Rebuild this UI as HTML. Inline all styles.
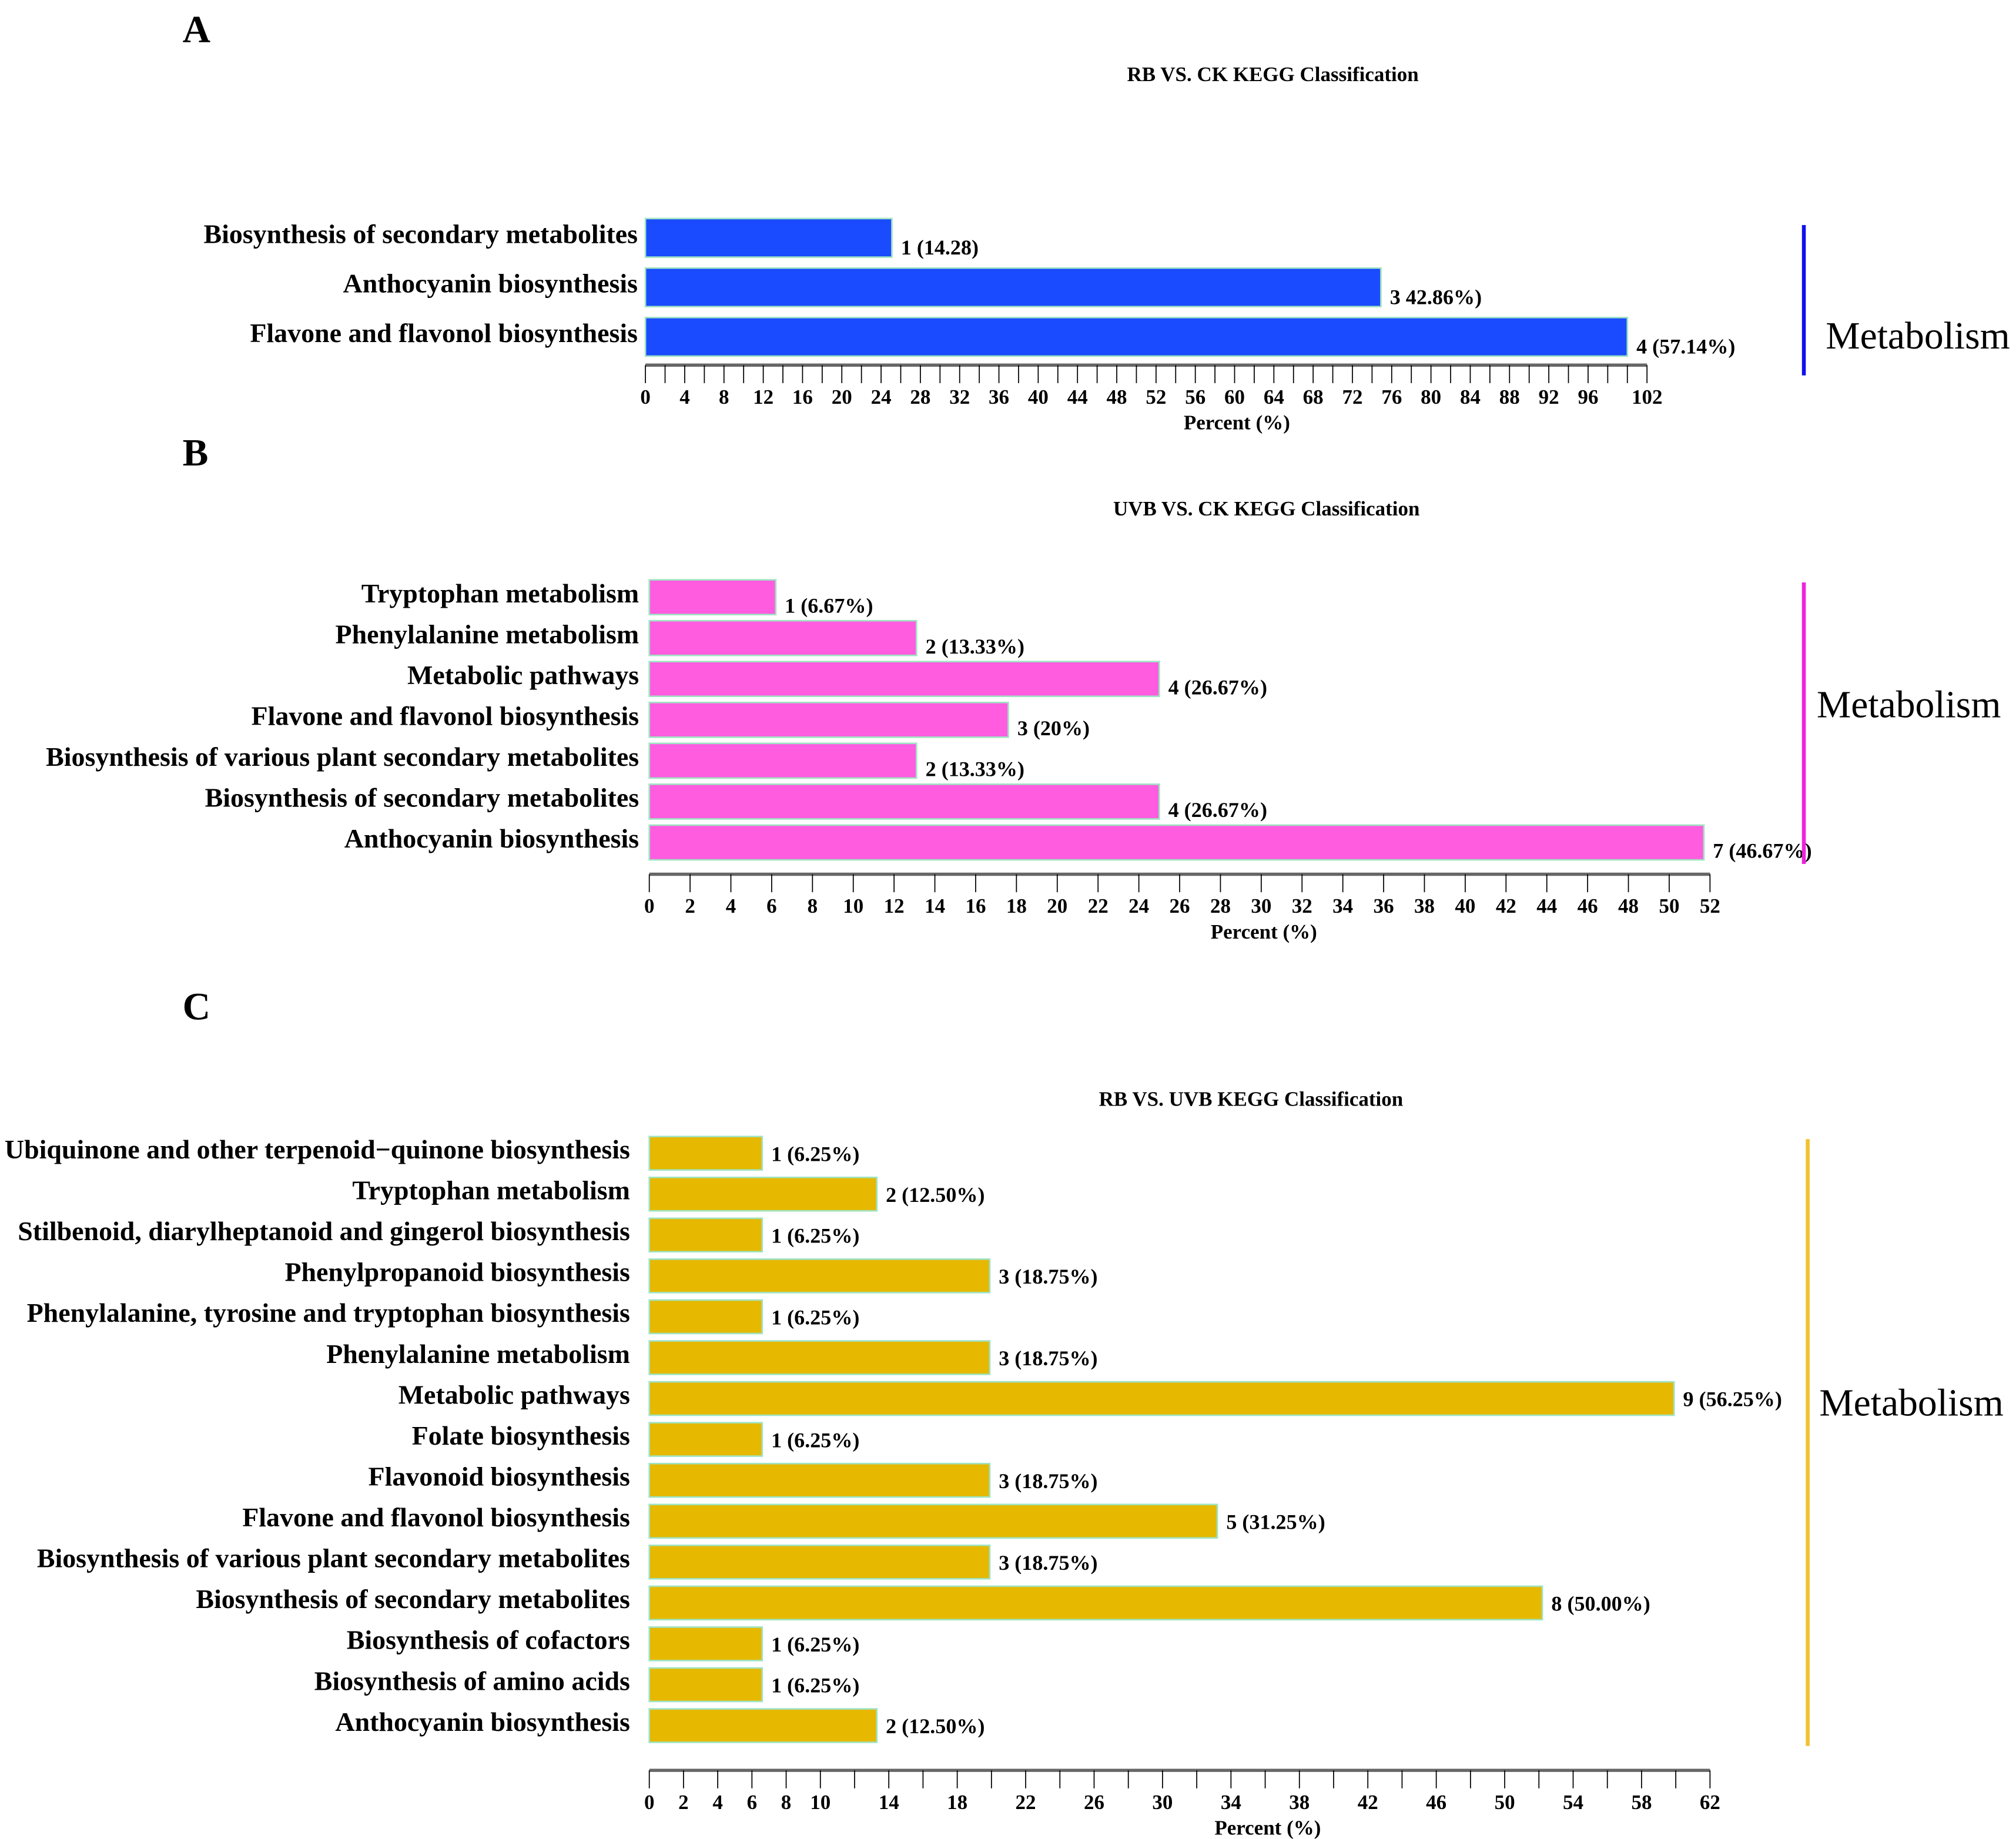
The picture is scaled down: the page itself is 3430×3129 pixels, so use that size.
<!DOCTYPE html>
<html><head><meta charset="utf-8"><style>
html,body{margin:0;padding:0;background:#fff}
svg{display:block}
text{font-family:"Liberation Serif",serif;fill:#000}
.b{font-weight:bold}
.n{font-weight:normal}
</style></head>
<body>
<svg id="fig" width="3430" height="3129" viewBox="0 0 1568 1430.4" preserveAspectRatio="none" xmlns="http://www.w3.org/2000/svg"></svg>
<script>
// Panel A data
const catsA = ["Biosynthesis of secondary metabolites","Anthocyanin biosynthesis","Flavone and flavonol biosynthesis"];
const valsA = [25.1, 74.9, 100];
const lblsA = ["1 (14.28)","3 42.86%)","4 (57.14%)"];
const ticksA = [0,4,8,12,16,20,24,28,32,36,40,44,48,52,56,60,64,68,72,76,80,84,88,92,96,102];
// Panel B data
const catsB = ["Tryptophan metabolism","Phenylalanine metabolism","Metabolic pathways","Flavone and flavonol biosynthesis","Biosynthesis of various plant secondary metabolites","Biosynthesis of secondary metabolites","Anthocyanin biosynthesis"];
const valsB = [6.2, 13.1, 25.0, 17.6, 13.1, 25.0, 51.7];
const lblsB = ["1 (6.67%)","2 (13.33%)","4 (26.67%)","3 (20%)","2 (13.33%)","4 (26.67%)","7 (46.67%)"];
const ticksB = [0,2,4,6,8,10,12,14,16,18,20,22,24,26,28,30,32,34,36,38,40,42,44,46,48,50,52];
// Panel C data
const catsC = ["Ubiquinone and other terpenoid\u2212quinone biosynthesis","Tryptophan metabolism","Stilbenoid, diarylheptanoid and gingerol biosynthesis","Phenylpropanoid biosynthesis","Phenylalanine, tyrosine and tryptophan biosynthesis","Phenylalanine metabolism","Metabolic pathways","Folate biosynthesis","Flavonoid biosynthesis","Flavone and flavonol biosynthesis","Biosynthesis of various plant secondary metabolites","Biosynthesis of secondary metabolites","Biosynthesis of cofactors","Biosynthesis of amino acids","Anthocyanin biosynthesis"];
const valsC = [6.6, 13.3, 6.6, 19.9, 6.6, 19.9, 59.9, 6.6, 19.9, 33.2, 19.9, 52.2, 6.6, 6.6, 13.3];
const lblsC = ["1 (6.25%)","2 (12.50%)","1 (6.25%)","3 (18.75%)","1 (6.25%)","3 (18.75%)","9 (56.25%)","1 (6.25%)","3 (18.75%)","5 (31.25%)","3 (18.75%)","8 (50.00%)","1 (6.25%)","1 (6.25%)","2 (12.50%)"];
const ticksC = [0,2,4,6,8,10,14,18,22,26,30,34,38,42,46,50,54,58,62];

const NS="http://www.w3.org/2000/svg";
const svg=document.getElementById('fig');
function el(tag,attrs,parent){const e=document.createElementNS(NS,tag);for(const k in attrs)e.setAttribute(k,attrs[k]);(parent||svg).appendChild(e);return e;}
function txt(s,attrs,parent){const t=el('text',attrs,parent);t.textContent=s;return t;}

function panel(p){
  const g=el('g',{});
  
  
  const x=v=>p.x0+(v-0)*(p.x1-p.x0)/p.max;
  const letter=txt(p.letter,{x:p.lx,y:p.ly,'font-size':30,class:'b'},g);
  
  
  const title=txt(p.title,{x:p.tx,y:p.ty,'font-size':16,'text-anchor':'middle',class:'b'},g);
  
  
  for(let i=0;i<p.cats.length;i++){
    const y=p.y0+i*p.pitch;
    const b=el('rect',{x:x(0),y:y,width:x(p.vals[i])-x(0),height:p.bh,fill:p.color,stroke:'#9fe3c2','stroke-width':1.2},g);
    
    
    const c=txt(p.cats[i],{x:p.lr,y:y+p.bh/2+4,'font-size':21,'text-anchor':'end',class:'b'},g);
    
    
    const v=txt(p.lbls[i],{x:x(p.vals[i])+7,y:y+p.bh/2+p.vo,'font-size':16.5,class:'b'},g);
    
    
  }
  const ax=el('line',{x1:x(0),x2:x(p.max),y1:p.ay,y2:p.ay,stroke:'#666','stroke-width':2.5},g);
  
  
  for(let v=0;v<=p.max+0.001;v+=p.minor){
    el('line',{x1:x(v),x2:x(v),y1:p.ay,y2:p.ay+14,stroke:'#000','stroke-width':0.8},g);
  }
  p.ticks.forEach(v=>{
    const t=txt(String(v),{x:x(v),y:p.ay+30,'font-size':16,'text-anchor':'middle',class:'b'},g);
    
    
  });
  const at=txt('Percent (%)',{x:p.px,y:p.ay+50,'font-size':16,'text-anchor':'middle',class:'b'},g);
  
  
  const ml=el('line',{x1:p.mx,x2:p.mx,y1:p.m1,y2:p.m2,stroke:p.lineColor,'stroke-width':3},g);
  
  
  const mt=txt('Metabolism',{x:p.mx+p.mo,y:p.my,'font-size':30,class:'n'},g);
  
  
}

panel({name:'panel-a',letter:'A',lx:142,ly:33,title:'RB VS. CK  KEGG Classification',tx:990,ty:63,
  cats:catsA,vals:valsA,lbls:lblsA,ticks:ticksA,max:102,minor:2,x0:502,x1:1281,y0:170,pitch:38.5,bh:30,lr:496,vo:13,
  color:'#1a4bff',ay:284,px:962,mx:1403,mo:17,m1:175,m2:292,my:271,lineColor:'#1010ee'});
panel({name:'panel-b',letter:'B',lx:142,ly:362,title:'UVB VS. CK  KEGG Classification',tx:985,ty:401,
  cats:catsB,vals:valsB,lbls:lblsB,ticks:ticksB,max:52,minor:2,x0:505,x1:1330,y0:451,pitch:31.8,bh:27,lr:497,vo:12,
  color:'#ff5ce0',ay:680,px:983,mx:1403,mo:10,m1:453,m2:672,my:558,lineColor:'#ee22dd'});
panel({name:'panel-c',letter:'C',lx:142,ly:793,title:'RB VS. UVB  KEGG Classification',tx:973,ty:860,
  cats:catsC,vals:valsC,lbls:lblsC,ticks:ticksC,max:62,minor:2,x0:505,x1:1330,y0:884,pitch:31.8,bh:26,lr:490,vo:6,
  color:'#e6b800',ay:1377,px:986,mx:1406,mo:9,m1:886,m2:1358,my:1101,lineColor:'#f2c12e'});
</script>
</body></html>
